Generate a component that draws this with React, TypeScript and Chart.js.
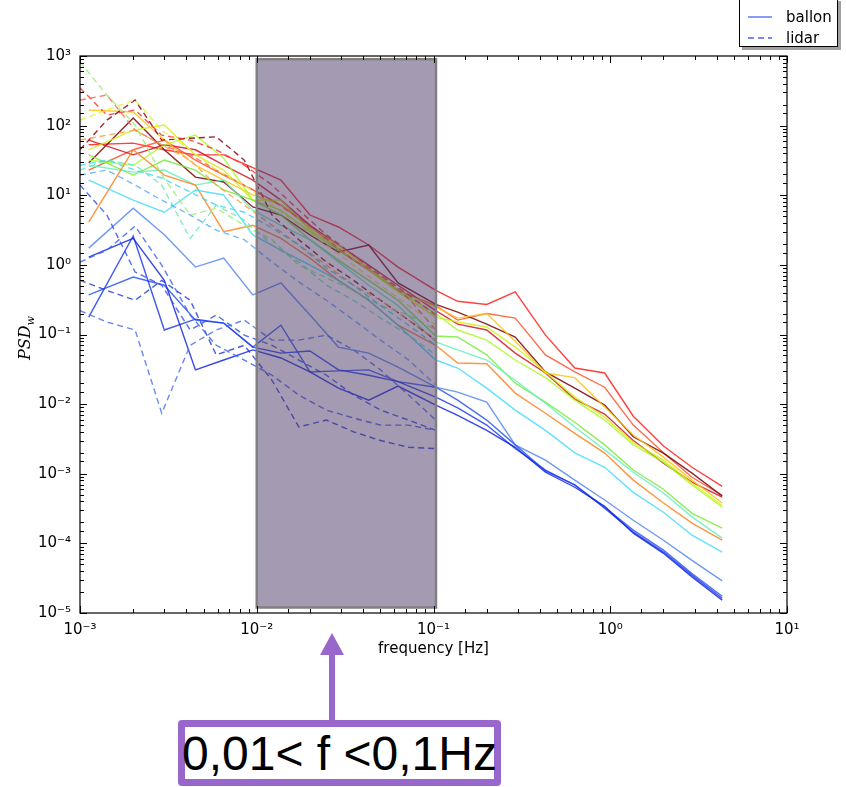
import React, { useEffect, useRef } from 'react';
import { Chart, registerables } from 'chart.js';

Chart.register(...registerables);

// ---------- data ----------
const ballonFreq = [0.00112, 0.002, 0.003, 0.0045, 0.0065, 0.0095, 0.0137, 0.02, 0.029, 0.043, 0.063, 0.103, 0.137, 0.2, 0.29, 0.43, 0.63, 0.93, 1.35, 2.0, 2.9, 4.3];
const lidarFreq = [0.001, 0.00142, 0.00205, 0.0029, 0.0042, 0.0059, 0.0085, 0.0122, 0.0173, 0.0248, 0.0353, 0.0502, 0.0723, 0.103];

const ballonRed = [53, 56, 45, 38, 38, 25, 16.5, 5.2, 3.5, 1.93, 0.93, 0.43, 0.3, 0.27, 0.41, 0.098, 0.033, 0.028, 0.0067, 0.0025, 0.00124, 0.00066];
const ballonTomato = [23, 45, 62, 32, 19.5, 11.9, 7.2, 3.7, 1.63, 0.84, 0.43, 0.26, 0.161, 0.2, 0.172, 0.051, 0.029, 0.0175, 0.005, 0.002, 0.00089, 0.00049];
const ballonMaroon = [29, 129, 45, 18.2, 15.5, 6.8, 5.2, 2.7, 1.53, 1.93, 0.55, 0.27, 0.21, 0.141, 0.092, 0.029, 0.017, 0.0097, 0.0034, 0.00198, 0.00102, 0.00048];
const ballonCrimson = [62, 38, 53, 45, 27, 16.5, 8.5, 3.7, 1.93, 0.99, 0.51, 0.22, 0.141, 0.116, 0.054, 0.028, 0.0118, 0.0072, 0.003, 0.00142, 0.00076, 0.00046];
const ballonGold = [168, 157, 62, 27, 16.5, 10.1, 7.2, 3.4, 1.93, 0.9, 0.43, 0.25, 0.172, 0.2, 0.08, 0.028, 0.024, 0.0091, 0.0036, 0.00173, 0.00081, 0.00038];
const ballonYellowGreen = [45, 86, 102, 38, 23, 8.5, 8.5, 3.16, 1.74, 0.84, 0.41, 0.178, 0.151, 0.128, 0.066, 0.029, 0.0126, 0.0065, 0.0028, 0.00157, 0.00073, 0.00035];
const ballonLightGreen = [32, 27, 53, 73, 34, 8.5, 6.1, 3.0, 1.63, 0.9, 0.43, 0.2, 0.116, 0.083, 0.043, 0.024, 0.0114, 0.0059, 0.0026, 0.00147, 0.00069, 0.00033];
const ballonLime = [38, 19.5, 32, 23, 11.9, 8.5, 5.2, 2.3, 1.17, 0.6, 0.31, 0.095, 0.092, 0.051, 0.02, 0.0107, 0.0055, 0.0026, 0.00113, 0.0006, 0.00027, 0.000165];
const ballonAqua = [27, 21.5, 23, 14, 16.5, 6.1, 3.7, 2.3, 1.1, 0.51, 0.26, 0.078, 0.06, 0.043, 0.022, 0.0103, 0.0047, 0.0022, 0.00105, 0.00053, 0.00024, 0.000119];
const ballonOrange = [4.1, 45, 19.5, 14, 3.0, 3.7, 2.4, 1.25, 0.6, 0.31, 0.136, 0.07, 0.039, 0.038, 0.0144, 0.0074, 0.0038, 0.00198, 0.00081, 0.00038, 0.000195, 0.000111];
const ballonCyan = [16.5, 8.5, 5.7, 11.9, 10.1, 2.7, 1.63, 0.99, 0.6, 0.31, 0.136, 0.043, 0.033, 0.017, 0.0082, 0.0042, 0.002, 0.00124, 0.00054, 0.00028, 0.000131, 0.000075];
const ballonSky = [1.74, 6.5, 2.7, 0.93, 1.25, 0.37, 0.55, 0.19, 0.066, 0.054, 0.034, 0.0175, 0.0149, 0.0107, 0.0026, 0.00157, 0.00081, 0.00042, 0.000215, 0.000111, 0.000057, 0.000029];
const ballonBlueA = [0.37, 0.67, 0.51, 0.161, 0.146, 0.066, 0.136, 0.029, 0.03, 0.031, 0.021, 0.0175, 0.0114, 0.0059, 0.0026, 0.00109, 0.00069, 0.00033, 0.000155, 0.00008, 0.000037, 0.0000174];
const ballonBlueB = [0.178, 2.6, 0.116, 0.166, 0.146, 0.066, 0.054, 0.058, 0.031, 0.026, 0.021, 0.0126, 0.0088, 0.005, 0.0023, 0.00113, 0.00069, 0.00032, 0.000145, 0.000075, 0.000035, 0.0000163];
const ballonBlueC = [1.29, 2.4, 0.6, 0.031, 0.043, 0.06, 0.046, 0.029, 0.017, 0.0114, 0.0182, 0.0097, 0.0069, 0.0042, 0.0024, 0.00105, 0.00064, 0.00034, 0.00014, 0.000072, 0.000033, 0.0000153];

const lidarBlueV = [0.22, 0.151, 0.116, 0.0074, 0.07, 0.116, 0.161, 0.083, 0.083, 0.098, 0.06, 0.031, 0.0135, 0.0059];
const lidarBlue2 = [14, 5.2, 0.79, 0.51, 0.116, 0.19, 0.098, 0.07, 0.043, 0.026, 0.0135, 0.0082, 0.0059, 0.0042];
const lidarBlue3 = [1.1, 1.63, 3.6, 0.99, 0.19, 0.07, 0.043, 0.026, 0.0135, 0.0082, 0.0063, 0.005, 0.005, 0.0042];
const lidarBlue4 = [0.6, 0.43, 0.31, 0.6, 0.31, 0.051, 0.07, 0.022, 0.0047, 0.0059, 0.004, 0.003, 0.0024, 0.0023];
const lidarSky = [19.5, 23, 14, 8.5, 5.2, 3.16, 2.3, 1.1, 0.57, 0.31, 0.161, 0.083, 0.043, 0.0188];
const lidarCyan = [27, 32, 23, 17.7, 11.1, 7.2, 5.7, 3.4, 1.93, 0.9, 0.51, 0.26, 0.136, 0.07];
const lidarGreen = [820, 275, 102, 19.5, 5.2, 6.5, 3.7, 2.3, 0.99, 0.65, 0.43, 0.26, 0.19, 0.116];
const lidarYellow = [120, 168, 233, 86, 45, 23, 14, 7.2, 3.7, 1.93, 0.99, 0.51, 0.26, 0.136];
const lidarOrange = [62, 73, 86, 53, 32, 14, 7.2, 3.7, 1.93, 0.99, 0.51, 0.31, 0.161, 0.083];
const lidarRed = [347, 142, 168, 73, 62, 45, 27, 14, 6.1, 2.7, 1.38, 0.71, 0.37, 0.19];
const lidarMaroon = [45, 120, 233, 62, 66, 69, 32, 5.2, 2.3, 1.1, 0.6, 0.31, 0.161, 0.083];
const lidarSalmon = [233, 275, 86, 53, 38, 23, 14, 8.5, 4.7, 2.4, 1.17, 0.71, 0.33, 0.116];
const lidarAqua = [23, 32, 27, 14, 2.4, 7.2, 4.4, 1.93, 1.1, 0.51, 0.31, 0.172, 0.098, 0.051];

const xTickLabels = ['10⁻³', '10⁻²', '10⁻¹', '10⁰', '10¹'];
const yTickLabels = ['10⁻⁵', '10⁻⁴', '10⁻³', '10⁻²', '10⁻¹', '10⁰', '10¹', '10²', '10³'];
const bandFreq = [0.01, 0.1033];
const bandPsd = [1.2e-5, 900];

const seriesLabels = ['ballon', 'lidar'];
const annotationText = '0,01< f <0,1Hz';

// ---------- styles ----------
const ballonSeries: [number[], string][] = [
  [ballonBlueC, 'rgba(20,40,225,0.85)'],
  [ballonBlueB, 'rgba(30,60,240,0.85)'],
  [ballonBlueA, 'rgba(45,85,245,0.85)'],
  [ballonSky, 'rgba(85,135,245,0.85)'],
  [ballonCyan, 'rgba(70,220,250,0.85)'],
  [ballonOrange, 'rgba(255,130,30,0.85)'],
  [ballonAqua, 'rgba(100,240,190,0.85)'],
  [ballonLime, 'rgba(120,235,60,0.85)'],
  [ballonLightGreen, 'rgba(170,250,40,0.85)'],
  [ballonYellowGreen, 'rgba(210,240,20,0.85)'],
  [ballonGold, 'rgba(255,195,20,0.85)'],
  [ballonCrimson, 'rgba(210,20,40,0.85)'],
  [ballonMaroon, 'rgba(120,0,10,0.85)'],
  [ballonTomato, 'rgba(255,85,45,0.85)'],
  [ballonRed, 'rgba(255,30,30,0.85)'],
];
const lidarSeries: [number[], string][] = [
  [lidarBlueV, 'rgba(80,115,240,0.85)'],
  [lidarBlue2, 'rgba(50,85,235,0.85)'],
  [lidarBlue3, 'rgba(65,100,240,0.85)'],
  [lidarBlue4, 'rgba(35,65,215,0.85)'],
  [lidarSky, 'rgba(100,170,250,0.85)'],
  [lidarCyan, 'rgba(70,215,235,0.85)'],
  [lidarAqua, 'rgba(110,230,190,0.85)'],
  [lidarGreen, 'rgba(150,240,110,0.85)'],
  [lidarYellow, 'rgba(230,240,60,0.85)'],
  [lidarOrange, 'rgba(255,160,60,0.85)'],
  [lidarSalmon, 'rgba(255,100,80,0.85)'],
  [lidarRed, 'rgba(245,55,55,0.85)'],
  [lidarMaroon, 'rgba(140,0,20,0.85)'],
];

const PURPLE = '#9966cc';

const exp10 = (v: number) => Math.log10(v);
const isPow10 = (v: number) => Math.abs(exp10(v) - Math.round(exp10(v))) < 1e-6;

const bandPlugin = {
  id: 'band',
  afterDatasetsDraw(chart: any) {
    const { ctx, scales } = chart;
    const xs = scales.x;
    const ys = scales.y;
    const x0 = xs.getPixelForValue(bandFreq[0]);
    const x1 = xs.getPixelForValue(bandFreq[1]);
    const y0 = ys.getPixelForValue(bandPsd[1]);
    const y1 = ys.getPixelForValue(bandPsd[0]);
    ctx.save();
    ctx.fillStyle = 'rgba(73,53,101,0.5)';
    ctx.fillRect(x0, y0, x1 - x0, y1 - y0);
    ctx.strokeStyle = '#808080';
    ctx.lineWidth = 2.5;
    ctx.strokeRect(x0, y0, x1 - x0, y1 - y0);
    ctx.restore();
  },
};

const framePlugin = {
  id: 'frame',
  afterDraw(chart: any) {
    const { ctx, chartArea, scales } = chart;
    const { left, right, top, bottom } = chartArea;
    ctx.save();
    ctx.strokeStyle = '#000';
    ctx.lineWidth = 1.2;
    ctx.strokeRect(left, top, right - left, bottom - top);
    ctx.lineWidth = 1;
    ctx.beginPath();
    for (const t of scales.x.ticks) {
      const p = Math.round(scales.x.getPixelForValue(t.value)) + 0.5;
      const len = isPow10(t.value) ? 7 : 4;
      ctx.moveTo(p, bottom); ctx.lineTo(p, bottom - len);
      ctx.moveTo(p, top); ctx.lineTo(p, top + len);
    }
    for (const t of scales.y.ticks) {
      const p = Math.round(scales.y.getPixelForValue(t.value)) + 0.5;
      const len = isPow10(t.value) ? 7 : 4;
      ctx.moveTo(left, p); ctx.lineTo(left + len, p);
      ctx.moveTo(right, p); ctx.lineTo(right - len, p);
    }
    ctx.stroke();

    // y axis title PSD_w
    ctx.translate(26, 338);
    ctx.rotate(-Math.PI / 2);
    ctx.fillStyle = '#000';
    ctx.textBaseline = 'middle';
    ctx.textAlign = 'left';
    ctx.font = 'italic 16px "DejaVu Serif"';
    const w1 = ctx.measureText('PSD').width;
    ctx.font = 'italic 11px "DejaVu Serif"';
    const w2 = ctx.measureText('w').width;
    const start = -(w1 + w2) / 2;
    ctx.font = 'italic 16px "DejaVu Serif"';
    ctx.fillText('PSD', start, 0);
    ctx.font = 'italic 11px "DejaVu Serif"';
    ctx.fillText('w', start + w1, 5);
    ctx.restore();
  },
};

export default function App() {
  const ref = useRef<HTMLCanvasElement>(null);

  useEffect(() => {
    const canvas = ref.current;
    if (!canvas) return;
    const datasets: any[] = [];
    lidarSeries.forEach(([vals, color]) => {
      datasets.push({
        label: seriesLabels[1],
        data: vals.map((v, i) => ({ x: lidarFreq[i], y: v })),
        borderColor: color,
        borderWidth: 1.4,
        borderDash: [6, 4],
        pointRadius: 0,
        fill: false,
        tension: 0,
      });
    });
    ballonSeries.forEach(([vals, color]) => {
      datasets.push({
        label: seriesLabels[0],
        data: vals.map((v, i) => ({ x: ballonFreq[i], y: v })),
        borderColor: color,
        borderWidth: 1.4,
        pointRadius: 0,
        fill: false,
        tension: 0,
      });
    });

    const tickFont = { family: '"DejaVu Sans"', size: 15 };
    const chart = new Chart(canvas, {
      type: 'line',
      data: { datasets },
      plugins: [bandPlugin, framePlugin],
      options: {
        responsive: false,
        devicePixelRatio: 1,
        animation: false,
        events: [],
        layout: { padding: { left: 8, right: 59, top: 56, bottom: 129 } },
        plugins: { legend: { display: false }, tooltip: { enabled: false } },
        scales: {
          x: {
            type: 'logarithmic',
            min: 1e-3,
            max: 10,
            grid: { display: false, drawTicks: false },
            border: { display: false },
            ticks: {
              autoSkip: false,
              maxRotation: 0,
              padding: 8,
              color: '#000',
              font: tickFont,
              callback: (v: any) => (isPow10(Number(v)) ? xTickLabels[Math.round(exp10(Number(v))) + 3] : ''),
            },
            title: {
              display: true,
              text: 'frequency [Hz]',
              color: '#000',
              font: { family: '"DejaVu Sans"', size: 15 },
              padding: { top: 0, bottom: 0 },
            },
            afterFit: (s: any) => { s.height = 45; },
          },
          y: {
            type: 'logarithmic',
            min: 1e-5,
            max: 1e3,
            grid: { display: false, drawTicks: false },
            border: { display: false },
            ticks: {
              autoSkip: false,
              padding: 9,
              color: '#000',
              font: tickFont,
              callback: (v: any) => (isPow10(Number(v)) ? yTickLabels[Math.round(exp10(Number(v))) + 5] : ''),
            },
            afterFit: (s: any) => { s.width = 72; },
          },
        },
      } as any,
    });
    return () => chart.destroy();
  }, []);

  return (
    <div style={{ position: 'fixed', left: 0, top: 0, width: 846, height: 787, background: '#fff', overflow: 'hidden' }}>
      <canvas ref={ref} width={846} height={787} style={{ position: 'absolute', left: 0, top: 0, width: 846, height: 787 }} />
      {/* legend */}
      <div style={{ position: 'absolute', left: 739, top: -2, width: 99, height: 49, boxSizing: 'border-box', border: '1px solid #000', background: '#fff', boxShadow: '3px 3px 0 #a0a0a0', fontFamily: '"DejaVu Sans"', fontSize: 15, color: '#000' }}>
        <svg width={30} height={48} style={{ position: 'absolute', left: 6, top: 0 }}>
          <line x1={2} y1={18} x2={26} y2={18} stroke="rgba(50,85,245,0.9)" strokeWidth={1.3} />
          <line x1={2} y1={39} x2={26} y2={39} stroke="rgba(50,85,245,0.9)" strokeWidth={1.3} strokeDasharray="6 4" />
        </svg>
        <div style={{ position: 'absolute', left: 46, top: 9, lineHeight: '18px' }}>{seriesLabels[0]}</div>
        <div style={{ position: 'absolute', left: 46, top: 30, lineHeight: '18px' }}>{seriesLabels[1]}</div>
      </div>
      {/* arrow */}
      <svg width={846} height={787} style={{ position: 'absolute', left: 0, top: 0, pointerEvents: 'none' }}>
        <line x1={332} y1={722} x2={332} y2={652} stroke={PURPLE} strokeWidth={6} />
        <polygon points="332,633 320,655 344,655" fill={PURPLE} />
      </svg>
      {/* annotation box */}
      <div style={{ position: 'absolute', left: 178, top: 720, width: 323, height: 66, boxSizing: 'border-box', border: `7px solid ${PURPLE}`, borderRadius: 4, background: '#fff', display: 'flex', alignItems: 'center', justifyContent: 'center', overflow: 'visible' }}>
        <span style={{ fontFamily: '"Liberation Sans", Arial, sans-serif', fontSize: 48, lineHeight: '52px', color: '#000', whiteSpace: 'nowrap', marginTop: 2 }}>{annotationText}</span>
      </div>
    </div>
  );
}
